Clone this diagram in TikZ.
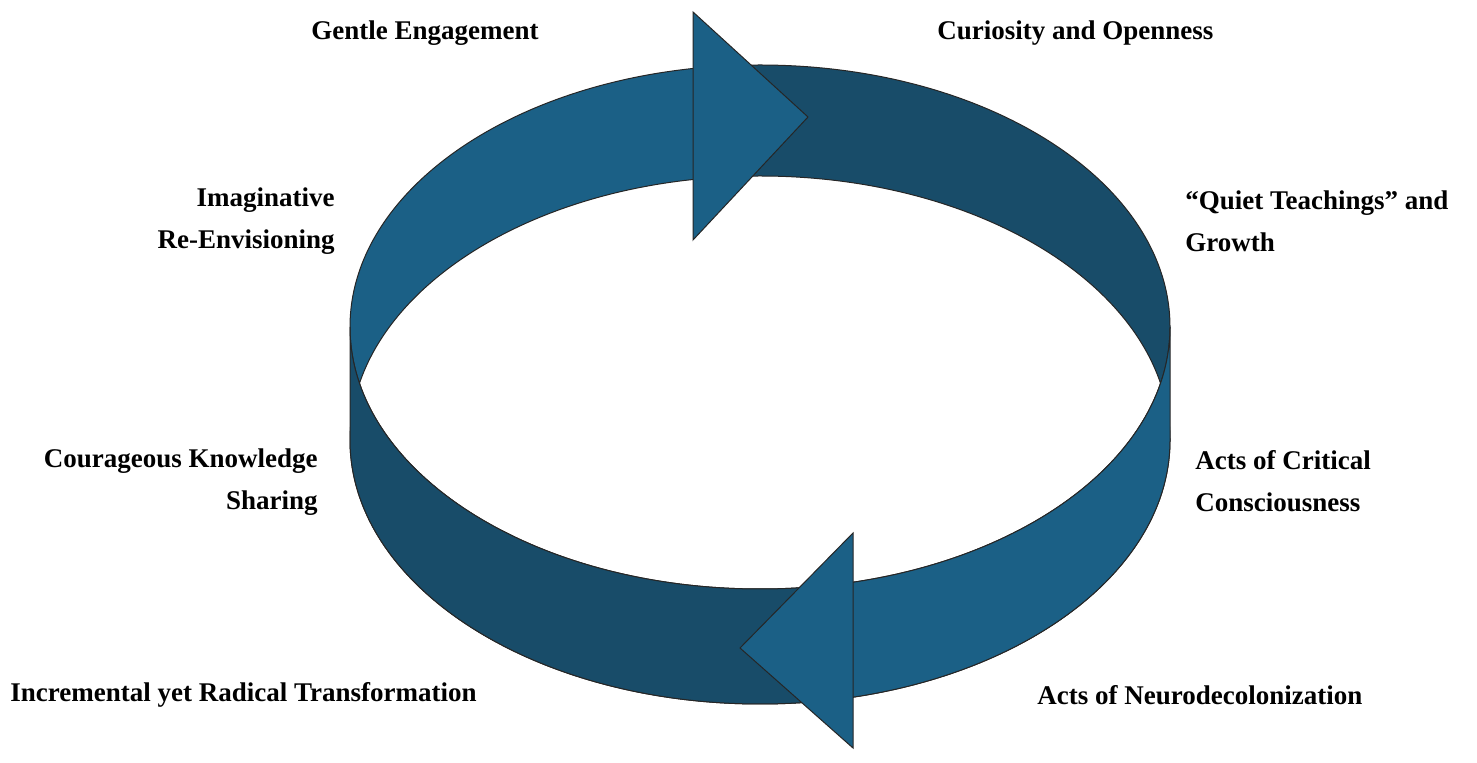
\documentclass[tikz,border=0pt]{standalone}
\usepackage{fontspec}
\setmainfont{Liberation Serif}
\begin{document}
\begin{tikzpicture}[x=0.5pt,y=-0.5pt,
  lbl/.style={font=\bfseries\fontsize{13.5}{21}\selectfont,inner sep=0pt},
  light/.style={fill={rgb,255:red,27;green,96;blue,134}},
  dark/.style={fill={rgb,255:red,24;green,76;blue,105}},
  edge/.style={draw=black!85,line width=0.5pt}]
\useasboundingbox (0,0) rectangle (1477,763);
\def\topE{(760,327) ellipse [x radius=205pt, y radius=131pt]}
\def\botE{(760,440) ellipse [x radius=205pt, y radius=132pt]}
% back face (crescent)
\begin{scope}
 \clip (0,0) rectangle (700,763);
 \path[light,even odd rule] \topE \botE;
\end{scope}
\begin{scope}
 \clip (700,0) rectangle (1477,763);
 \path[dark,even odd rule] \topE \botE;
\end{scope}
\path[edge,even odd rule] \topE \botE;
% front face
\def\front{(350,327) -- (350,440) arc[start angle=180,end angle=360,x radius=205pt,y radius=132pt] -- (1170,327) arc[start angle=0,end angle=-180,x radius=205pt,y radius=131pt] -- cycle}
\begin{scope}
 \clip (0,0) rectangle (853,763);
 \path[dark] \front;
\end{scope}
\begin{scope}
 \clip (853,0) rectangle (1477,763);
 \path[light] \front;
\end{scope}
\path[edge] \front;
% arrowheads
\path[light,edge] (693,12) coordinate (t1) -- (808,117) coordinate (t2) -- (693,240) coordinate (t3) -- cycle;
\path[light,edge] (853,533) coordinate (b1) -- (740,648) coordinate (b2) -- (853,748) coordinate (b3) -- cycle;
% labels
\node[lbl] (l1) at (425,33) {Gentle Engagement};
\node[lbl,anchor=west] (l2) at (937,33) {Curiosity and Openness};
\node[lbl,anchor=east,align=right] (l3) at (335,221) {Imaginative\\Re-Envisioning};
\node[lbl,anchor=west,align=left] (l4) at (1185,221) {“Quiet Teachings” and\\Growth};
\node[lbl,anchor=east,align=right] (l5) at (318,482) {Courageous Knowledge\\Sharing};
\node[lbl,anchor=west,align=left] (l6) at (1195,481) {Acts of Critical\\Consciousness};
\node[lbl,anchor=west] (l7) at (10,695) {Incremental yet Radical Transformation};
\node[lbl,anchor=west] (l8) at (1037,695) {Acts of Neurodecolonization};
\end{tikzpicture}
\end{document}
